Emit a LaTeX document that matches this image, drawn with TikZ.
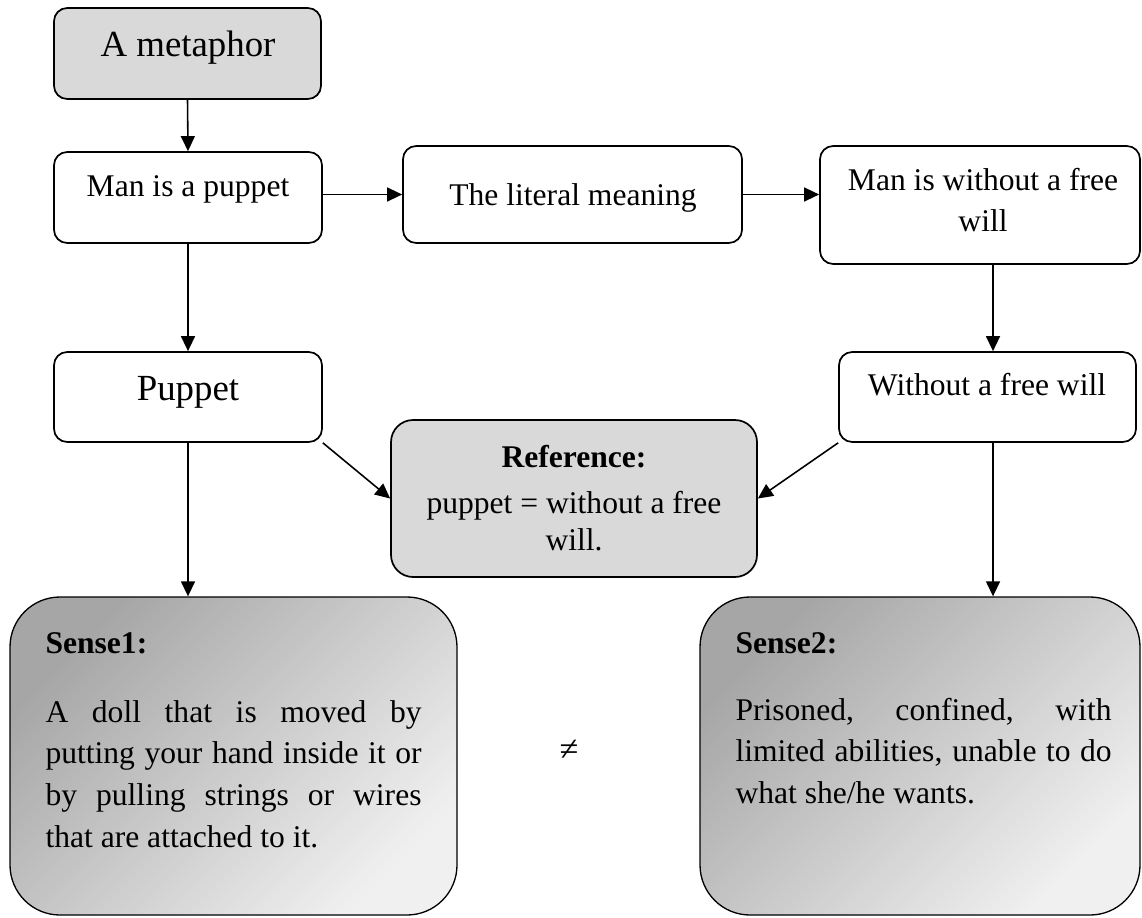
\documentclass[tikz,border=0pt]{standalone}
\usepackage{fontspec}
\setmainfont{Liberation Serif}
\usetikzlibrary{arrows.meta,fit}
\definecolor{boxgray}{HTML}{D9D9D9}
\definecolor{shadedark}{HTML}{A6A6A6}
\definecolor{shadelight}{HTML}{F0F0F0}
% one justified line of a sense paragraph (normal, stretchable word spaces)
\newcommand{\jline}[1]{\makebox[142.9pt][s]{\spaceskip=0pt\xspaceskip=0pt #1}}
\begin{document}
\begin{tikzpicture}[x=0.38pt,y=-0.38pt,
  box/.style={draw, line width=0.65pt, rounded corners=5pt, inner sep=0pt},
  graybox/.style={box, fill=boxgray},
  refbox/.style={graybox, rounded corners=8.4pt},
  sensebox/.style={draw, line width=0.5pt, rounded corners=19pt, inner sep=0pt,
    top color=shadedark, bottom color=shadelight, shading angle=45},
  arr/.style={line width=0.6pt, -{Triangle[length=5.7pt,width=5.3pt]}},
  txt/.style={inner sep=0pt, anchor=base, font=\fontsize{12}{14}\selectfont},
  bigtxt/.style={txt, font=\fontsize{14}{16}\selectfont},
  para/.style={inner sep=0pt, anchor=base west, text width=142.9pt, align=justify,
    font=\fontsize{12}{15.9}\selectfont}
]
\useasboundingbox (0,0) rectangle (1142,917);

% top chain
\node[graybox, fit={(54,8)(321,99)}] (meta) {};
\node[bigtxt] (metatxt) at (188,57) {A metaphor};
\node[box, fit={(54,152)(322,243)}] (man) {};
\node[txt] (mantxt) at (188,197) {Man is a puppet};
\node[box, fit={(403,146)(742,243)}] (lit) {};
\node[txt] (littxt) at (573,206) {The literal meaning};
\node[box, fit={(820,146)(1140,264)}] (wout) {};
\node[txt] (wouttxta) at (983,191) {Man is without a free};
\node[txt] (wouttxtb) at (983,232) {will};

% middle row
\node[box, fit={(54,352)(322,442)}] (pup) {};
\node[bigtxt] (puptxt) at (188,400) {Puppet};
\node[box, fit={(839,352)(1136,442)}] (wfw) {};
\node[txt] (wfwtxt) at (987,395) {Without a free will};
\node[refbox, fit={(391,420)(757,577)}] (ref) {};
\node[txt] (refhead) at (574,467) {\textbf{Reference:}};
\node[txt] (refa) at (574,513) {puppet = without a free};
\node[txt] (refb) at (574,550) {will.};

% the two senses
\node[sensebox, fit={(10,597)(457,915)}] (sa) {};
\node[txt, anchor=base west] (sahead) at (45,653) {\textbf{Sense1:}};
\node[para] (satxt) at (45,722) {\jline{A doll that is moved by}\\
  \jline{putting your hand inside it or}\\
  \jline{by pulling strings or wires}\\
  \spaceskip=0pt\xspaceskip=0pt that are attached to it.};
\node[sensebox, fit={(700,597)(1140,915)}] (sb) {};
\node[txt, anchor=base west] (sbhead) at (735,653) {\textbf{Sense2:}};
\node[para] (sbtxt) at (735,720) {\jline{Prisoned, confined, with}\\
  \jline{limited abilities, unable to do}\\
  \spaceskip=0pt\xspaceskip=0pt what she/he wants.};
\node[txt, font=\fontsize{13}{15}\selectfont] (neq) at (569,760) {≠};

% connectors
\coordinate (rx) at (993,0);
\draw[arr] (meta.south) -- (man.north);
\draw[arr] (man.east |- lit.west) -- (lit.west);
\draw[arr] (lit.east) -- (lit.east -| wout.west);
\draw[arr] (man.south) -- (pup.north);
\draw[arr] (wout.south -| rx) -- (wfw.north -| rx);
\draw[arr] (pup.south east) -- (ref.west);
\draw[arr] (wfw.south west) -- (ref.east);
\draw[arr] (pup.south) -- (pup.south |- sa.north);
\draw[arr] (wfw.south -| rx) -- (sb.north -| rx);
\end{tikzpicture}
\end{document}
